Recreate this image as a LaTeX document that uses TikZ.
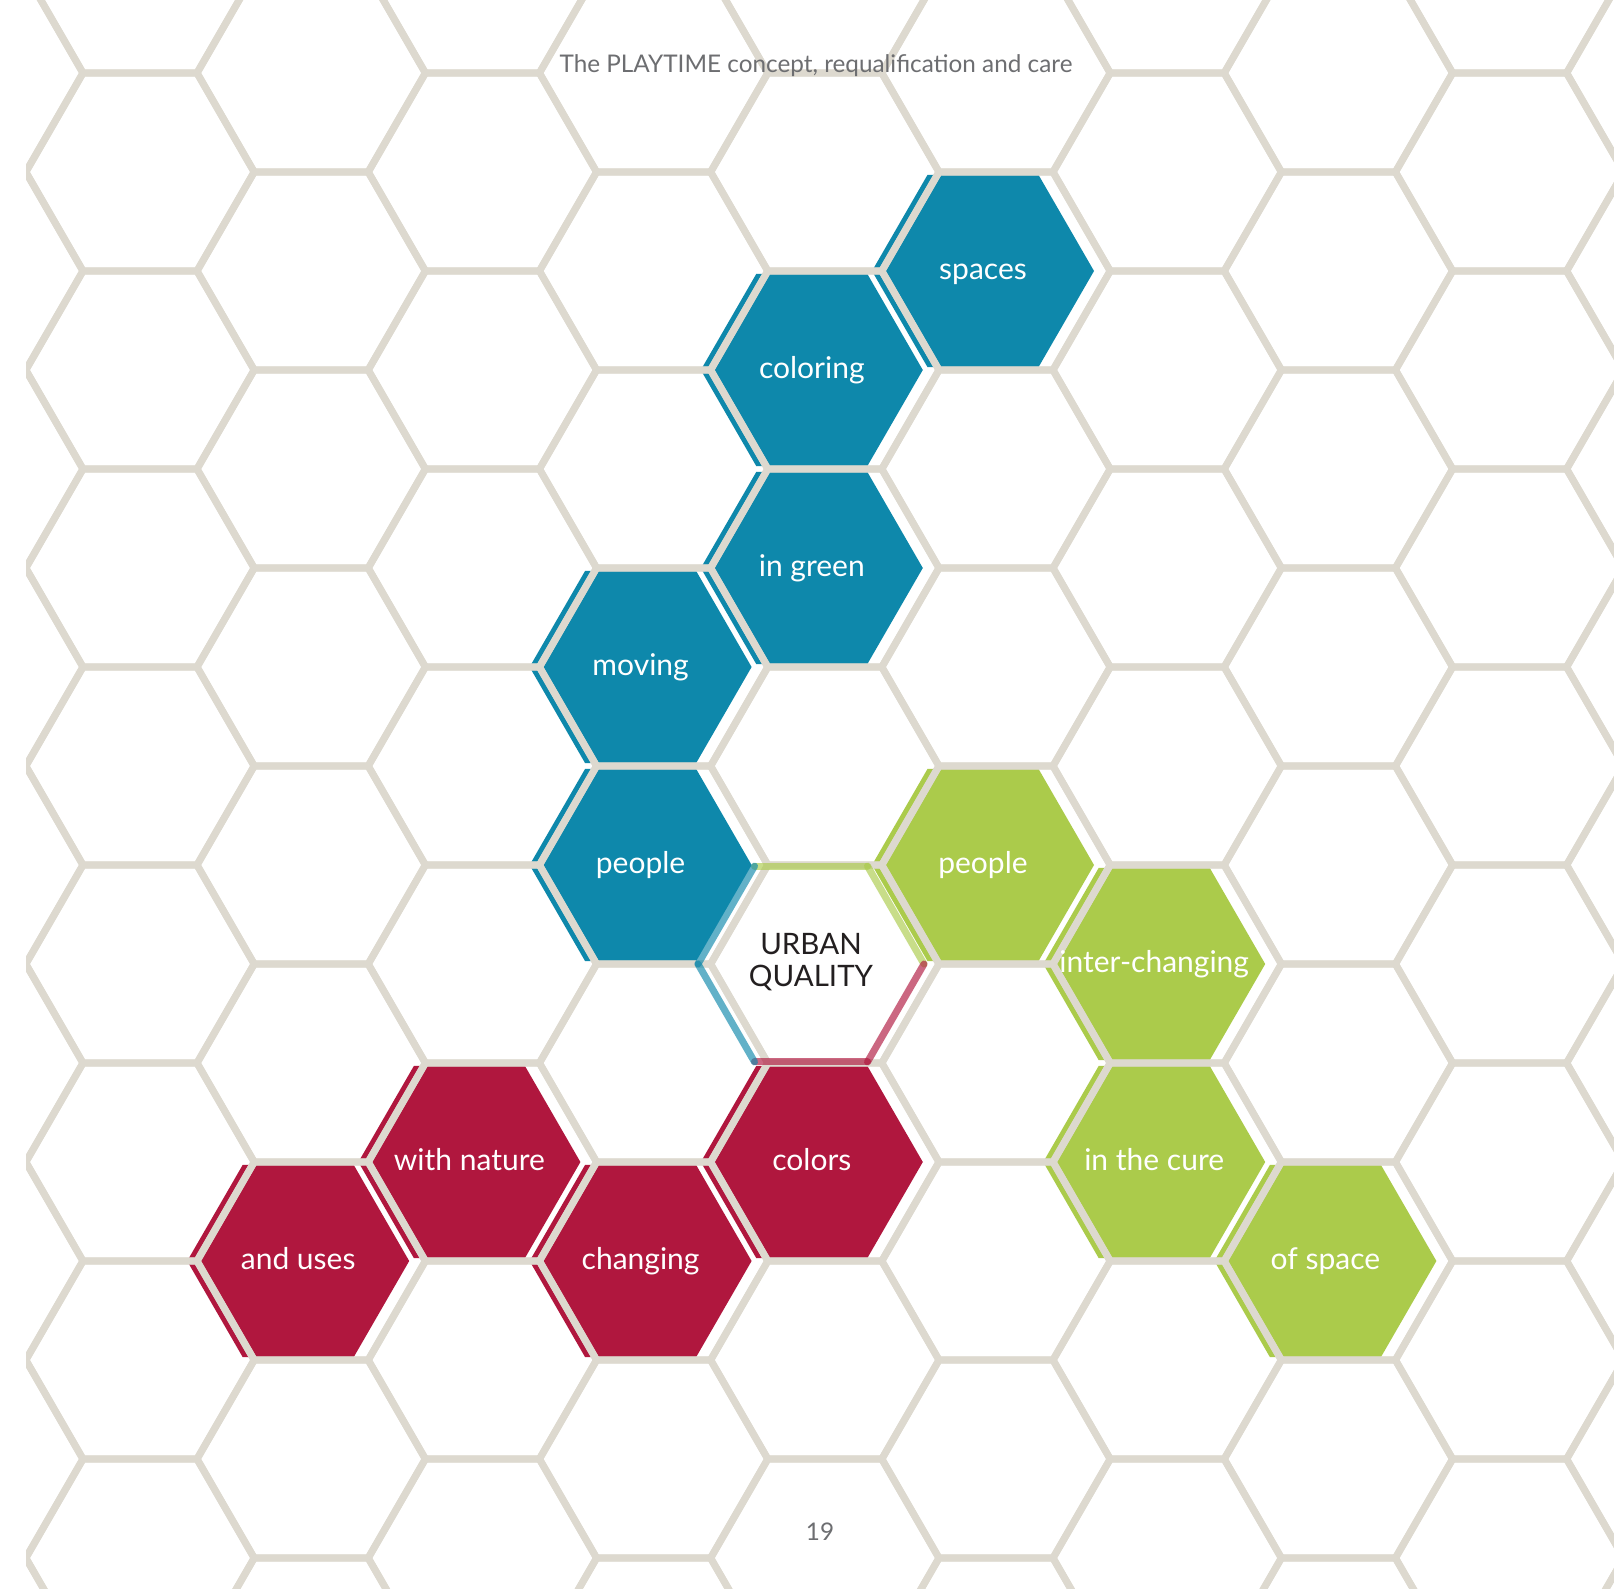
\documentclass[tikz,border=0pt]{standalone}
\usepackage{fontspec}
\setmainfont{Lato}
\definecolor{gridgray}{HTML}{DDD9CF}
\definecolor{hexblue}{HTML}{0E88AB}
\definecolor{hexgreen}{HTML}{ABCB4B}
\definecolor{hexred}{HTML}{B0173E}
\definecolor{titlegray}{HTML}{6D6E71}
\definecolor{darktext}{HTML}{231F20}
\newcommand\hexp[3]{(#1+#3,#2) -- (#1+0.5*#3,#2+0.8660254*#3) -- (#1-0.5*#3,#2+0.8660254*#3) -- (#1-#3,#2) -- (#1-0.5*#3,#2-0.8660254*#3) -- (#1+0.5*#3,#2-0.8660254*#3) -- cycle}
\tikzset{
  gridline/.style={draw=gridgray, line width=7pt, line join=round},
  lab/.style={text=white, font=\fontsize{30}{36}\selectfont, anchor=base, inner sep=0pt},
  rim/.style={line width=7pt, line cap=round, opacity=0.65},
  pagetext/.style={text=titlegray, font=\fontsize{24.3}{28}\selectfont, anchor=base, inner sep=0pt}
}
\begin{document}
\begin{tikzpicture}[x=1pt,y=-1pt]
\useasboundingbox (0,0) rectangle (1614,1588);
\fill[white] (0,0) rectangle (1614,1588);
% coloured cells (shifted slightly left of the grid)
\fill[hexblue] \hexp{983}{271}{111};
\fill[hexblue] \hexp{811.8}{370}{111};
\fill[hexblue] \hexp{811.8}{568}{111};
\fill[hexblue] \hexp{640.6}{667}{111};
\fill[hexblue] \hexp{640.6}{865}{111};
\fill[hexgreen] \hexp{983}{865}{111};
\fill[hexgreen] \hexp{1154.2}{964}{111};
\fill[hexgreen] \hexp{1154.2}{1162}{111};
\fill[hexgreen] \hexp{1325.4}{1261}{111};
\fill[hexred] \hexp{811.8}{1162}{111};
\fill[hexred] \hexp{640.6}{1261}{111};
\fill[hexred] \hexp{469.4}{1162}{111};
\fill[hexred] \hexp{298.2}{1261}{111};
% hexagonal grid
\begin{scope}
\clip (26,0) rectangle (1614,1588);
\foreach \i in {-1,...,10} {
  \pgfmathsetmacro\cx{140+171.2*\i}
  \pgfmathsetmacro\oy{172-99*abs(mod(\i,2))}
  \foreach \k in {-1,...,9} {
    \pgfmathsetmacro\cy{\oy+198*\k}
    \draw[gridline] \hexp{\cx}{\cy}{114.1};
  }
}
\end{scope}
% centre cell rim
\coordinate (vr) at (924,964);
\coordinate (vtr) at (867.5,866.1);
\coordinate (vtl) at (754.5,866.1);
\coordinate (vl) at (698,964);
\coordinate (vbl) at (754.5,1061.9);
\coordinate (vbr) at (867.5,1061.9);
\draw[rim, draw=hexgreen] (vtl) -- (vtr);
\draw[rim, draw=hexgreen] (vtr) -- (vr);
\draw[rim, draw=hexred] (vr) -- (vbr);
\draw[rim, draw=hexred] (vbr) -- (vbl);
\draw[rim, draw=hexblue] (vbl) -- (vl);
\draw[rim, draw=hexblue] (vl) -- (vtl);
% labels
\node[lab] (spaces) at (983,279) {spaces};
\node[lab] (coloring) at (811.8,378) {coloring};
\node[lab] (ingreen) at (811.8,576) {in green};
\node[lab] (moving) at (640.6,675) {moving};
\node[lab] (peopleb) at (640.6,873) {people};
\node[lab] (peopleg) at (983,873) {people};
\node[lab] (interchanging) at (1154.2,972) {inter-changing};
\node[lab] (inthecure) at (1154.2,1170) {in the cure};
\node[lab] (ofspace) at (1325.4,1269) {of space};
\node[lab] (colors) at (811.8,1170) {colors};
\node[lab] (changing) at (640.6,1269) {changing};
\node[lab] (withnature) at (469.4,1170) {with nature};
\node[lab] (anduses) at (298.2,1269) {and uses};
\node[text=darktext, font=\fontsize{29.5}{32}\selectfont, align=center, inner sep=0pt] (urban) at (811,962) {URBAN\\QUALITY};
\node[pagetext] (title) at (816,72) {The PLAYTIME concept, requalification and care};
\node[pagetext] (pagenum) at (820,1540) {19};
\end{tikzpicture}
\end{document}
